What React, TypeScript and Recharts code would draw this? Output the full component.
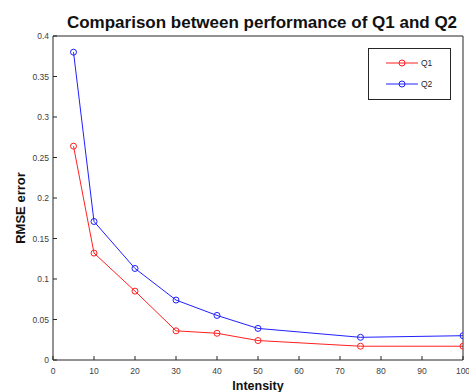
import React from 'react';
import { LineChart, Line, XAxis, YAxis } from 'recharts';

const intensity = [5, 10, 20, 30, 40, 50, 75, 100];
const q1 = [0.264, 0.132, 0.085, 0.036, 0.033, 0.024, 0.017, 0.017];
const q2 = [0.38, 0.171, 0.113, 0.074, 0.055, 0.039, 0.028, 0.03];
const xTicks = [0, 10, 20, 30, 40, 50, 60, 70, 80, 90, 100];
const yTicks = [0, 0.05, 0.1, 0.15, 0.2, 0.25, 0.3, 0.35, 0.4];
const seriesNames = ['Q1', 'Q2'];
const seriesColors = ['#ff2020', '#2020ff'];

const data = intensity.map((x, i) => ({ x, Q1: q1[i], Q2: q2[i] }));

const FONT = '"Liberation Sans", Arial, Helvetica, sans-serif';
const tickStyle = { fontSize: 8.5, fill: '#404040', fontFamily: FONT };

export default function App() {
  return (
    <div style={{ position: 'absolute', left: 0, top: 0, width: 469, height: 392, background: '#fff' }}>
      <LineChart
        width={469}
        height={392}
        data={data}
        margin={{ top: 35, right: 5, bottom: 12, left: 13 }}
      >
        <text
          x={262}
          y={28}
          textAnchor="middle"
          fontSize={17}
          fontWeight="bold"
          fontFamily={FONT}
          fill="#111"
        >
          Comparison between performance of Q1 and Q2
        </text>
        <text
          x={0}
          y={0}
          transform="translate(25,208) rotate(-90)"
          textAnchor="middle"
          fontSize={13}
          fontWeight="bold"
          fontFamily={FONT}
          fill="#111"
        >
          RMSE error
        </text>
        <text
          x={258}
          y={389.5}
          textAnchor="middle"
          fontSize={12.5}
          fontWeight="bold"
          fontFamily={FONT}
          fill="#111"
        >
          Intensity
        </text>
        <XAxis
          xAxisId="bottom"
          dataKey="x"
          type="number"
          domain={[0, 100]}
          ticks={xTicks}
          interval={0}
          height={20}
          tick={tickStyle}
          tickSize={-4}
          tickMargin={12}
          stroke="#262626"
          allowDataOverflow
        />
        <XAxis
          xAxisId="top"
          orientation="top"
          dataKey="x"
          type="number"
          domain={[0, 100]}
          ticks={xTicks}
          interval={0}
          height={1}
          tick={false}
          tickSize={-4}
          stroke="#262626"
        />
        <YAxis
          yAxisId="left"
          type="number"
          domain={[0, 0.4]}
          ticks={yTicks}
          interval={0}
          width={40}
          tick={tickStyle}
          tickSize={-4}
          tickMargin={8}
          stroke="#262626"
        />
        <YAxis
          yAxisId="right"
          orientation="right"
          type="number"
          domain={[0, 0.4]}
          ticks={yTicks}
          interval={0}
          width={1}
          tick={false}
          tickSize={-4}
          stroke="#262626"
        />
        <Line
          xAxisId="bottom"
          yAxisId="left"
          dataKey="Q1"
          stroke={seriesColors[0]}
          strokeWidth={1}
          dot={{ r: 3, fill: 'none', stroke: seriesColors[0], strokeWidth: 1 }}
          isAnimationActive={false}
        />
        <Line
          xAxisId="bottom"
          yAxisId="left"
          dataKey="Q2"
          stroke={seriesColors[1]}
          strokeWidth={1}
          dot={{ r: 3, fill: 'none', stroke: seriesColors[1], strokeWidth: 1 }}
          isAnimationActive={false}
        />
        <g>
          <rect x={368.5} y={48.5} width={82} height={51} fill="#fff" stroke="#262626" strokeWidth={1} />
          {seriesNames.map((n, i) => {
            const y = 63 + i * 21;
            return (
              <g key={n}>
                <line x1={386} x2={418} y1={y} y2={y} stroke={seriesColors[i]} strokeWidth={1} />
                <circle cx={402} cy={y} r={3} fill="none" stroke={seriesColors[i]} strokeWidth={1} />
                <text x={421} y={y + 3} fontSize={8.5} fill="#262626" fontFamily={FONT}>
                  {n}
                </text>
              </g>
            );
          })}
        </g>
      </LineChart>
    </div>
  );
}
